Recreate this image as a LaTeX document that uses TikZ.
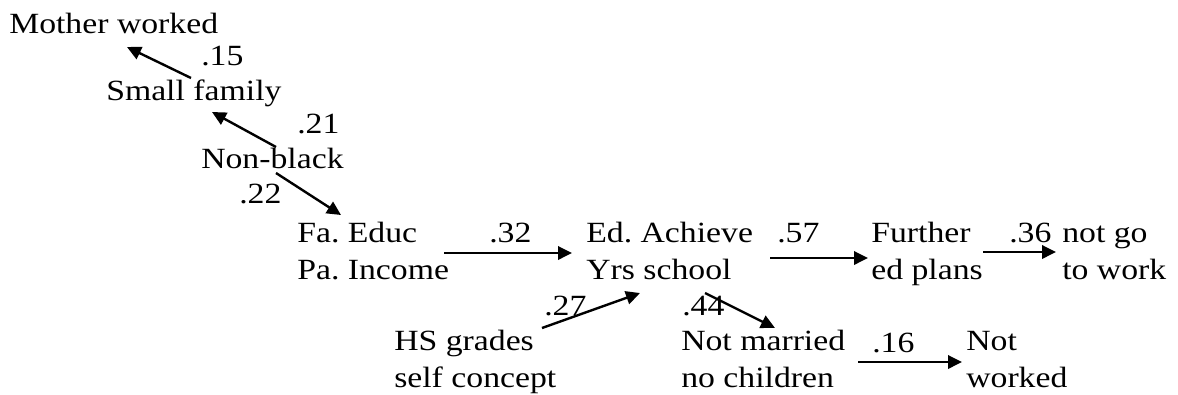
\documentclass[tikz,border=0pt]{standalone}
\usepackage{fontspec}
\setmainfont{Liberation Serif}[FakeStretch=1.15]
\frenchspacing
\usepackage{tikz}
\usetikzlibrary{arrows.meta}

\begin{document}
\begin{tikzpicture}[
    x=0.75pt, y=-0.75pt,
    var/.style={align=left, inner sep=0pt, anchor=base west,
                font=\fontsize{22}{27.75}\selectfont},
    wt/.style={var},
    flow/.style={-{Triangle[length=10.5pt,width=10pt]}, line width=1.8pt}]
  \useasboundingbox (0,0) rectangle (1178,394);
  % variables (two-line ones sit on the baseline of their last line)
  \node[var] (mother) at (9,33) {Mother worked};
  \node[var] (small) at (106,100) {Small family};
  \node[var] (nonblack) at (201,168) {Non-black};
  \node[var] (faeduc) at (297,279) {Fa. Educ\\Pa. Income};
  \node[var] (edach) at (586,279) {Ed. Achieve\\Yrs school};
  \node[var] (hsgrades) at (394,387) {HS grades\\self concept};
  \node[var] (notmarr) at (681,387) {Not married\\no children};
  \node[var] (further) at (871,279) {Further\\ed plans};
  \node[var] (notgo) at (1062,279) {not go\\to work};
  \node[var] (notwork) at (966,387) {Not\\worked};
  % path weights
  \node[wt] (w15) at (201,65) {.15};
  \node[wt] (w21) at (297,133) {.21};
  \node[wt] (w22) at (239,203) {.22};
  \node[wt] (w32) at (489,242) {.32};
  \node[wt] (w27) at (544,315) {.27};
  \node[wt] (w44) at (682,315) {.44};
  \node[wt] (w57) at (777,242) {.57};
  \node[wt] (w36) at (1009,242) {.36};
  \node[wt] (w16) at (872,352) {.16};
  % paths
  \draw[flow] ([shift={(85,-22)}]small.base west) -- ([shift={(118,14)}]mother.base west);
  \draw[flow] ([shift={(75,-21)}]nonblack.base west) -- ([shift={(106,12)}]small.base west);
  \draw[flow] ([shift={(75,5)}]nonblack.base west) -- ([shift={(44,-64)}]faeduc.base west);
  \draw[flow] ([shift={(147,-26)}]faeduc.base west) -- ([shift={(-14,-26)}]edach.base west);
  \draw[flow] ([shift={(148,-59)}]hsgrades.base west) -- ([shift={(54,14)}]edach.base west);
  \draw[flow] ([shift={(119,14)}]edach.base west) -- ([shift={(94,-59)}]notmarr.base west);
  \draw[flow] ([shift={(184,-21)}]edach.base west) -- ([shift={(-3,-21)}]further.base west);
  \draw[flow] ([shift={(112,-27)}]further.base west) -- ([shift={(-6,-27)}]notgo.base west);
  \draw[flow] ([shift={(177,-25)}]notmarr.base west) -- ([shift={(-4,-25)}]notwork.base west);
\end{tikzpicture}
\end{document}
